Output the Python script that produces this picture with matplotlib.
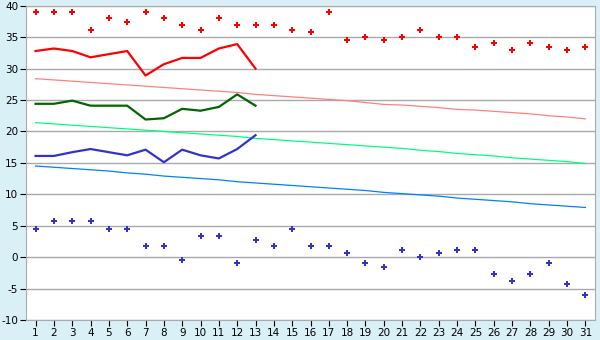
import matplotlib
matplotlib.use("Agg")
import matplotlib.pyplot as plt

plt.rcParams["axes.unicode_minus"] = False

days = list(range(1, 32))

# daily extremes (points)
max_temp = [39.0, 39.0, 39.0, 36.2, 38.0, 37.4, 39.0, 38.0, 36.9, 36.2,
            38.0, 36.9, 36.9, 36.9, 36.2, 35.8, 39.0, 34.5, 35.0, 34.5,
            35.0, 36.2, 35.0, 35.0, 33.4, 34.0, 32.9, 34.0, 33.4, 32.9, 33.4]
min_temp = [4.4, 5.7, 5.7, 5.7, 4.4, 4.4, 1.7, 1.7, -0.5, 3.3,
            3.3, -1.0, 2.8, 1.7, 4.4, 1.7, 1.7, 0.6, -1.0, -1.6,
            1.1, 0.0, 0.6, 1.1, 1.1, -2.7, -3.8, -2.7, -1.0, -4.3, -6.0]

# thick lines, first 13 days
days13 = list(range(1, 14))
max_line = [32.8, 33.2, 32.8, 31.8, 32.3, 32.8, 28.9, 30.7, 31.7, 31.7, 33.2, 33.9, 30.0]
mean_line = [24.4, 24.4, 24.9, 24.1, 24.1, 24.1, 21.9, 22.1, 23.6, 23.3, 23.9, 25.9, 24.1]
min_line = [16.1, 16.1, 16.7, 17.2, 16.7, 16.2, 17.1, 15.1, 17.1, 16.2, 15.7, 17.2, 19.4]

# thin lines (normals)
norm_max = [28.4, 28.2, 28.0, 27.8, 27.6, 27.4, 27.2, 27.0, 26.8, 26.6,
            26.4, 26.2, 25.9, 25.7, 25.5, 25.3, 25.1, 24.9, 24.6, 24.3,
            24.2, 24.0, 23.8, 23.5, 23.4, 23.2, 23.0, 22.8, 22.5, 22.3, 22.0]
norm_mean = [21.4, 21.2, 21.0, 20.8, 20.6, 20.4, 20.2, 20.0, 19.8, 19.6,
             19.4, 19.2, 18.9, 18.7, 18.5, 18.3, 18.1, 17.9, 17.7, 17.5,
             17.3, 17.0, 16.8, 16.5, 16.3, 16.1, 15.8, 15.6, 15.4, 15.2, 14.9]
norm_min = [14.5, 14.3, 14.1, 13.9, 13.7, 13.4, 13.2, 12.9, 12.7, 12.5,
            12.3, 12.0, 11.8, 11.6, 11.4, 11.2, 11.0, 10.8, 10.6, 10.3,
            10.1, 9.9, 9.7, 9.4, 9.2, 9.0, 8.8, 8.5, 8.3, 8.1, 7.9]

fig = plt.figure(figsize=(6, 3.4), dpi=100, facecolor="#d9f0f7")
ax = fig.add_axes([0.044, 0.059, 0.947, 0.924])
ax.set_facecolor("white")

ax.plot(days, norm_max, color="#ff8080", lw=0.9)
ax.plot(days, norm_mean, color="#00ff80", lw=0.9)
ax.plot(days, norm_min, color="#0080ff", lw=0.9)

ax.plot(days13, max_line, color="#ff0000", lw=1.6)
ax.plot(days13, mean_line, color="#006600", lw=1.6)
ax.plot(days13, min_line, color="#3333cc", lw=1.6)

ax.plot(days, max_temp, "P", color="#ff0000", ms=4.6, mew=0)
ax.plot(days, min_temp, "P", color="#3333cc", ms=4.6, mew=0)

ax.set_xlim(0.5, 31.5)
ax.set_ylim(-10, 40)
ax.set_xticks(days)
ax.set_yticks(range(-10, 41, 5))
ax.yaxis.grid(True, color="#aaaaaa", lw=1)
ax.set_axisbelow(True)
for s in ax.spines.values():
    s.set_color("#aaaaaa")
ax.tick_params(labelsize=7.5, length=4, color="black", pad=2)

fig.savefig("out.png", dpi=100, facecolor=fig.get_facecolor())
